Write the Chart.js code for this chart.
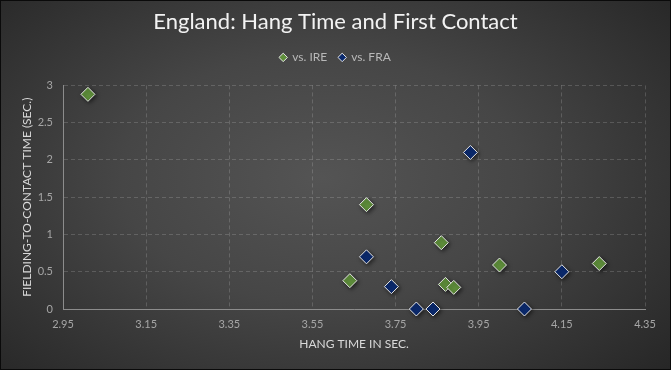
<!DOCTYPE html>
<html><head><meta charset="utf-8">
<script src="https://cdn.jsdelivr.net/npm/chart.js@4.4.0/dist/chart.umd.min.js"></script>
<style>
html,body{margin:0;padding:0;background:#000;}
#wrap{position:relative;width:671px;height:370px;box-sizing:border-box;border:1px solid #0a0a0a;
background:radial-gradient(ellipse 75% 85% at 48% 48%, #545454 0%, #464646 40%, #2e2e2e 80%, #222 100%);}
canvas{display:block;}
</style></head><body>
<div id="wrap"><canvas id="c" width="669" height="368"></canvas></div>
<script>
const chartTitle = 'England: Hang Time and First Contact';
const seriesNames = ['vs. IRE', 'vs. FRA'];
const ireHang = [3.01, 3.68, 3.64, 3.86, 3.87, 3.89, 4.00, 4.24];
const ireContact = [2.88, 1.40, 0.38, 0.89, 0.33, 0.29, 0.59, 0.61];
const fraHang = [3.93, 3.68, 3.74, 3.80, 3.84, 4.06, 4.15];
const fraContact = [2.10, 0.70, 0.30, 0, 0, 0, 0.50];
const xTicks = [2.95, 3.15, 3.35, 3.55, 3.75, 3.95, 4.15, 4.35];
const yTicks = [0, 0.5, 1, 1.5, 2, 2.5, 3];
const xTitle = 'HANG TIME IN SEC.';
const yTitle = 'FIELDING-TO-CONTACT TIME (SEC.)';

const FONT = "Lato, 'Open Sans', sans-serif";
const toPts = (xs, ys) => xs.map((x, i) => ({x: x, y: ys[i]}));

const legendPad = {
  id: 'legendPad',
  beforeLayout(chart) {
    const lg = chart.legend;
    if (lg && !lg._patched) {
      const f = lg.fit;
      lg.fit = function () { f.call(this); this.height = 46; };
      lg._patched = true;
    }
  }
};
const shadow = {
  id: 'shadow',
  beforeDatasetsDraw(chart) {
    const c = chart.ctx; c.save();
    c.shadowColor = 'rgba(0,0,0,0.55)'; c.shadowBlur = 4; c.shadowOffsetX = 1.5; c.shadowOffsetY = 1.5;
  },
  afterDatasetsDraw(chart) { chart.ctx.restore(); }
};

const grid = { color: 'rgba(255,255,255,0.16)', drawTicks: false, lineWidth: 1 };

new Chart(document.getElementById('c'), {
  type: 'scatter',
  data: {
    datasets: [
      { label: seriesNames[0], data: toPts(ireHang, ireContact), backgroundColor: '#5f8f3b', borderColor: '#e6e6e6',
        borderWidth: 1, pointStyle: 'rectRot', pointRadius: 7, pointHoverRadius: 7, clip: false },
      { label: seriesNames[1], data: toPts(fraHang, fraContact), backgroundColor: '#0b2a6e', borderColor: '#e6e6e6',
        borderWidth: 1, pointStyle: 'rectRot', pointRadius: 7, pointHoverRadius: 7, clip: false }
    ]
  },
  options: {
    responsive: false,
    animation: false,
    events: [],
    layout: { padding: { left: 0, right: 0, top: 0, bottom: 0 } },
    plugins: {
      title: { display: true, text: chartTitle, color: '#f2f2f2',
        font: { family: FONT, size: 22, weight: 'normal' }, padding: { top: 8, bottom: 4 } },
      legend: { display: true, position: 'top',
        labels: { usePointStyle: true, pointStyle: 'rectRot', boxWidth: 6, boxHeight: 6, padding: 12,
          color: '#b8b8b8', font: { family: FONT, size: 12 } } },
      tooltip: { enabled: false }
    },
    scales: {
      x: {
        type: 'linear', min: xTicks[0], max: xTicks[xTicks.length - 1],
        afterBuildTicks: (s) => { s.ticks = xTicks.map(v => ({ value: v })); },
        afterFit: (s) => { s.height = 60; },
        grid: Object.assign({}, grid),
        border: { display: true, color: '#8c8c8c', width: 1, dash: [4, 3] },
        ticks: { color: '#a6a6a6', font: { family: FONT, size: 11 }, padding: 9,
          callback: (v) => Number(v).toFixed(2) },
        title: { display: true, text: xTitle, color: '#d9d9d9', font: { family: FONT, size: 12 },
          padding: { top: 0, bottom: 18 } }
      },
      y: {
        type: 'linear', min: yTicks[0], max: yTicks[yTicks.length - 1],
        afterBuildTicks: (s) => { s.ticks = yTicks.map(v => ({ value: v })); },
        afterFit: (s) => { s.width = 62; },
        grid: Object.assign({}, grid),
        border: { display: true, color: '#8c8c8c', width: 1, dash: [4, 3] },
        ticks: { color: '#a6a6a6', font: { family: FONT, size: 11 }, padding: 10,
          callback: (v) => String(v) },
        title: { display: true, text: yTitle, color: '#d9d9d9', font: { family: FONT, size: 12 },
          padding: { top: 19, bottom: 0 } }
      },
      y2: {
        type: 'linear', position: 'right', display: true, min: 0, max: 3,
        afterFit: (s) => { s.width = 25; },
        grid: { display: false, drawTicks: false },
        border: { display: false },
        ticks: { display: false }
      }
    }
  },
  plugins: [legendPad, shadow]
});
</script>
</body></html>
